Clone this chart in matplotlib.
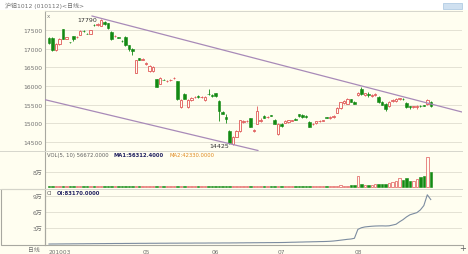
import numpy as np
import matplotlib
matplotlib.use('Agg')
import matplotlib.pyplot as plt
from matplotlib.patches import Rectangle
from matplotlib.lines import Line2D

plt.rcParams['font.family'] = ['DejaVu Sans', 'Noto Sans CJK SC']

# daily candles, 2010-03-23 .. 2010-08-31 (Mar / Apr / May / Jun / Jul / Aug)
opens = [17290, 17290, 16970, 17130, 17520, 17270, 17180,
         17330, 17300, 17370, 17480, 17400, 17400, 17640, 17630, 17610, 17720, 17690, 17450, 17330, 17300, 17210, 17320, 17100, 17000, 16360, 16750, 16700,
         16600, 16390, 16400, 16190, 16060, 16170, 16120, 16150, 16210, 16130, 15440, 15790, 15440, 15620, 15700, 15740, 15700, 15620, 15790, 15760,
         15800, 15600, 15300, 15170, 14800, 14450, 14640, 14780, 15030, 15060, 15130, 14780, 14990, 15060, 15190, 15170, 15210, 15100, 14720,
         14990, 15020, 15040, 15070, 15110, 15240, 15220, 15200, 15040, 14980, 15000, 15050, 15070, 15160, 15140, 15170, 15285, 15400, 15540, 15530, 15640, 15580,
         15760, 15930, 15760, 15780, 15730, 15760, 15700, 15570, 15520, 15460, 15590, 15600, 15640, 15650, 15540, 15450, 15430, 15440, 15460, 15480, 15520, 15580]
highs = [17310, 17300, 17140, 17280, 17540, 17320, 17190,
         17340, 17340, 17490, 17500, 17420, 17510, 17650, 17680, 17790, 17730, 17700, 17460, 17370, 17320, 17230, 17330, 17110, 17010, 16700, 16760, 16740,
         16640, 16550, 16540, 16200, 16230, 16190, 16160, 16190, 16250, 16140, 15640, 15800, 15640, 15700, 15720, 15760, 15720, 15720, 15920, 15780,
         15820, 15620, 15320, 15250, 14810, 14660, 14820, 15100, 15100, 15090, 15150, 14850, 15470, 15130, 15210, 15200, 15230, 15120, 15000,
         15010, 15080, 15100, 15100, 15130, 15260, 15240, 15220, 15060, 15010, 15070, 15080, 15100, 15180, 15200, 15220, 15430, 15580, 15620, 15690, 15660, 15600,
         15830, 15960, 15820, 15840, 15790, 15810, 15720, 15590, 15540, 15600, 15650, 15670, 15690, 15670, 15560, 15470, 15470, 15480, 15480, 15500, 15640, 15590]
lows = [17120, 16950, 16950, 17110, 17250, 17250, 17160,
        17200, 17290, 17360, 17440, 17380, 17390, 17620, 17620, 17600, 17640, 17540, 17240, 17310, 17280, 17190, 17080, 16950, 16840, 16340, 16690, 16690,
        16560, 16380, 16380, 15960, 16040, 16150, 16100, 16130, 16190, 15620, 15420, 15640, 15420, 15600, 15680, 15690, 15680, 15600, 15760, 15700,
        15700, 15050, 15240, 15000, 14440, 14425, 14620, 14760, 15010, 15040, 14890, 14760, 14970, 15040, 15130, 15150, 15190, 14970, 14680,
        14910, 15000, 15020, 15050, 15080, 15180, 15150, 15140, 14890, 14960, 14980, 15030, 15050, 15130, 15120, 15150, 15270, 15390, 15520, 15510, 15570, 15510,
        15740, 15770, 15740, 15700, 15710, 15740, 15550, 15480, 15330, 15440, 15570, 15580, 15620, 15620, 15420, 15380, 15410, 15390, 15430, 15460, 15500, 15430]
closes = [17160, 16970, 17120, 17260, 17270, 17300, 17170,
          17270, 17320, 17470, 17460, 17390, 17500, 17630, 17670, 17780, 17650, 17560, 17260, 17350, 17290, 17200, 17100, 16990, 16940, 16690, 16700, 16720,
          16620, 16530, 16520, 15980, 16210, 16160, 16140, 16170, 16220, 15650, 15620, 15660, 15620, 15680, 15710, 15700, 15710, 15700, 15780, 15720,
          15720, 15340, 15260, 15110, 14460, 14640, 14800, 15080, 15060, 15070, 14910, 14830, 15340, 15100, 15150, 15180, 15200, 14980, 14990,
          14930, 15060, 15080, 15080, 15100, 15200, 15170, 15160, 14910, 14990, 15050, 15060, 15080, 15150, 15180, 15200, 15420, 15560, 15600, 15660, 15580, 15530,
          15810, 15790, 15800, 15760, 15770, 15790, 15570, 15500, 15380, 15580, 15630, 15650, 15670, 15640, 15440, 15430, 15450, 15460, 15450, 15470, 15620, 15450]
volumes = [3000, 3500, 4200, 3800, 4500, 3000, 3600,
           4100, 3900, 4400, 3300, 4700, 3800, 4000, 4200, 5200, 4600, 3900, 4400, 3500, 3700, 3400, 4100, 4800, 4300, 5500, 3900, 3600,
           4200, 4600, 4100, 4900, 4300, 3700, 3900, 4000, 3600, 5400, 4700, 4500, 5100, 4200, 3800, 3900, 4100, 4400, 4800, 4300,
           4600, 5600, 4400, 4800, 5900, 6200, 5300, 5000, 4400, 4600, 4800, 4300, 6400, 4500, 4200, 4600, 4100, 4300, 5200,
           5600, 4700, 4500, 4300, 4200, 4600, 4400, 4300, 4100, 5000, 4400, 4600, 4500, 4700, 5000, 6000, 8000, 9000, 7000, 8000, 9000, 10000,
           58000, 16000, 11000, 10000, 12000, 14000, 16000, 16000, 18000, 21000, 27000, 30000, 48000, 35000, 48000, 32000, 34000, 42000, 53000, 58000, 160000, 80000]
open_interest = [900, 1000, 1000, 1100, 1100, 1200, 1200,
                 1300, 1300, 1400, 1400, 1500, 1500, 1600, 1600, 1700, 1700, 1800, 1800, 1900, 1900, 1900, 2000, 2000, 2100, 2100, 2200, 2200,
                 2200, 2300, 2300, 2300, 2400, 2400, 2400, 2500, 2500, 2500, 2600, 2600, 2600, 2600, 2700, 2700, 2700, 2700, 2800, 2800,
                 2800, 2800, 2900, 2900, 2900, 3000, 3000, 3100, 3100, 3200, 3200, 3300, 3300, 3400, 3400, 3500, 3500, 3600, 3600,
                 3700, 3800, 4000, 4200, 4300, 4500, 4600, 4800, 4900, 5100, 5200, 5400, 5500, 5700, 6000, 6500, 7200, 8000, 8800, 9600, 10200, 11500,
                 28000, 31000, 32500, 33200, 33800, 34200, 34400, 34500, 34300, 34600, 36000, 37500, 42000, 46000, 51000, 55000, 57000, 59000, 64000, 72000, 92000, 83170]

price_ticks = [14500, 15000, 15500, 16000, 16500, 17000, 17500]
vol_ticks = [80000]
vol_tick_labels = ['8万']
oi_ticks = [30000, 60000, 90000]
oi_tick_labels = ['3万', '6万', '9万']
date_pos = [0, 28, 48, 67, 89]
date_labels = ['201003', '05', '06', '07', '08']

# hand-drawn trend lines (day index, price)
upper_trend_x = [12.4, 119.0]
upper_trend_y = [17875, 15302]
lower_trend_x = [-1.15, 60.2]
lower_trend_y = [15632, 14271]

bg = '#fffef0'
up_col = '#e05858'
down_col = '#138a13'
txt_col = '#707070'
grid_col = '#e4e2d4'

W, H = 468, 255
fig = plt.figure(figsize=(W / 100, H / 100), dpi=100, facecolor=bg)


def box(x0, y0, x1, y1):
    return [x0 / W, 1 - y1 / H, (x1 - x0) / W, (y1 - y0) / H]


fig.patches.append(Rectangle((0, 1 - 11 / H), 1, 11 / H, transform=fig.transFigure,
                             facecolor='white', edgecolor='none', zorder=0))

ax_p = fig.add_axes(box(45, 12, 462, 152))
ax_v = fig.add_axes(box(45, 152, 462, 189), sharex=ax_p)
ax_o = fig.add_axes(box(45, 190, 462, 246), sharex=ax_p)

idx = np.arange(len(closes))
o = np.array(opens)
c = np.array(closes)
hi = np.array(highs)
lo = np.array(lows)
up = c >= o
dn = ~up
body_low = np.minimum(o, c)
body_h = np.maximum(np.abs(c - o), 8)

for ax in (ax_p, ax_v, ax_o):
    ax.set_facecolor(bg)
    for s in ax.spines.values():
        s.set_visible(False)
    ax.spines['left'].set_visible(True)
    ax.spines['left'].set_color('#a8a8a0')
    ax.spines['left'].set_linewidth(0.8)
    ax.tick_params(length=0, labelsize=4.3, colors=txt_col, pad=2)

# price
ax_p.vlines(idx[up], lo[up], hi[up], color=up_col, lw=0.6, zorder=2)
ax_p.vlines(idx[dn], lo[dn], hi[dn], color=down_col, lw=0.6, zorder=2)
ax_p.bar(idx[up], body_h[up], bottom=body_low[up], width=0.72, facecolor=bg,
         edgecolor=up_col, linewidth=0.6, zorder=3)
ax_p.bar(idx[dn], body_h[dn], bottom=body_low[dn], width=0.72, facecolor=down_col,
         edgecolor=down_col, linewidth=0.4, zorder=3)
ax_p.plot(upper_trend_x, upper_trend_y, color='#a88ab8', lw=0.9, zorder=4)
ax_p.plot(lower_trend_x, lower_trend_y, color='#a88ab8', lw=0.9, zorder=4)
i_max = int(np.argmax(hi))
i_min = int(np.argmin(lo))
ax_p.text(i_max - 1.2, hi[i_max] - 20, f'{hi[i_max]:d}', ha='right', va='center', fontsize=4.5, color='#303030')
ax_p.text(i_min - 1.2, lo[i_min] - 20, f'{lo[i_min]:d}', ha='right', va='center', fontsize=4.5, color='#303030')
ax_p.set_ylim(14257, 18009)
ax_p.set_xlim(-1.15, 119.0)
ax_p.set_yticks(price_ticks)
ax_p.set_yticklabels([str(t) for t in price_ticks])
ax_p.grid(axis='y', color=grid_col, lw=0.7)
ax_p.tick_params(labelbottom=False)
ax_p.text(0.005, 0.985, 'x', transform=ax_p.transAxes, fontsize=4, color='#808080', va='top')

# volume
ax_v.bar(idx[up], np.array(volumes)[up], width=0.72, facecolor=bg, edgecolor=up_col, linewidth=0.5, zorder=3)
ax_v.bar(idx[dn], np.array(volumes)[dn], width=0.72, facecolor=down_col, edgecolor=down_col, linewidth=0.4, zorder=3)
ax_v.set_ylim(-5333, 192000)
ax_v.set_yticks(vol_ticks)
ax_v.set_yticklabels(vol_tick_labels)
ax_v.grid(axis='y', color=grid_col, lw=0.7)
ax_v.tick_params(labelbottom=False)

# open interest
ax_o.plot(idx, open_interest, color='#7c8ca0', lw=0.8, zorder=3)
ax_o.set_ylim(-900, 102700)
ax_o.set_yticks(oi_ticks)
ax_o.set_yticklabels(oi_tick_labels)
ax_o.grid(axis='y', color=grid_col, lw=0.7)
ax_o.spines['bottom'].set_visible(True)
ax_o.spines['bottom'].set_color('#a8a8a0')
ax_o.set_xticks(date_pos)
ax_o.set_xticklabels(date_labels)
ax_o.tick_params(axis='x', labelsize=4.2, pad=3)
ax_o.get_xticklabels()[0].set_ha('left')

# frame lines
for yy in (11.5, 152, 189.5):
    fig.add_artist(Line2D([0 if yy != 11.5 else 45 / W, 462 / W], [1 - yy / H] * 2,
                          color='#d6d6cc', lw=0.7))
fig.patches.append(Rectangle((1 / W, 1 - 246 / H), 44 / W, 56 / H, transform=fig.transFigure,
                             facecolor='none', edgecolor='#a8a8a0', lw=0.8))

# captions
fig.text(5 / W, 1 - 6 / H, '沪铝1012 (010112)<日线>', fontsize=4.3, color=txt_col, va='center')
fig.patches.append(Rectangle((443 / W, 1 - 10 / H), 19 / W, 6 / H, transform=fig.transFigure,
                             facecolor='#cfe0f0', edgecolor='#a8c4e0', lw=0.5))
fig.text(47 / W, 1 - 155.5 / H, 'VOL(5, 10) 56672.0000', fontsize=3.8, color='#606060', va='center')
fig.text(113 / W, 1 - 155.5 / H, 'MA1:56312.4000', fontsize=3.8, color='#202060', va='center', fontweight='bold')
fig.text(169 / W, 1 - 155.5 / H, 'MA2:42330.0000', fontsize=3.8, color='#e08a20', va='center')
fig.text(47 / W, 1 - 193.5 / H, 'OI', fontsize=3.8, color='#606060', va='center')
fig.text(57 / W, 1 - 193.5 / H, 'OI:83170.0000', fontsize=3.8, color='#202060', va='center', fontweight='bold')
fig.text(28 / W, 1 - 251 / H, '日线', fontsize=4.2, color=txt_col, va='center')
fig.text(459 / W, 1 - 249 / H, '+', fontsize=6, color='#606060', va='center')

plt.savefig('out.png', dpi=100, facecolor=bg)
